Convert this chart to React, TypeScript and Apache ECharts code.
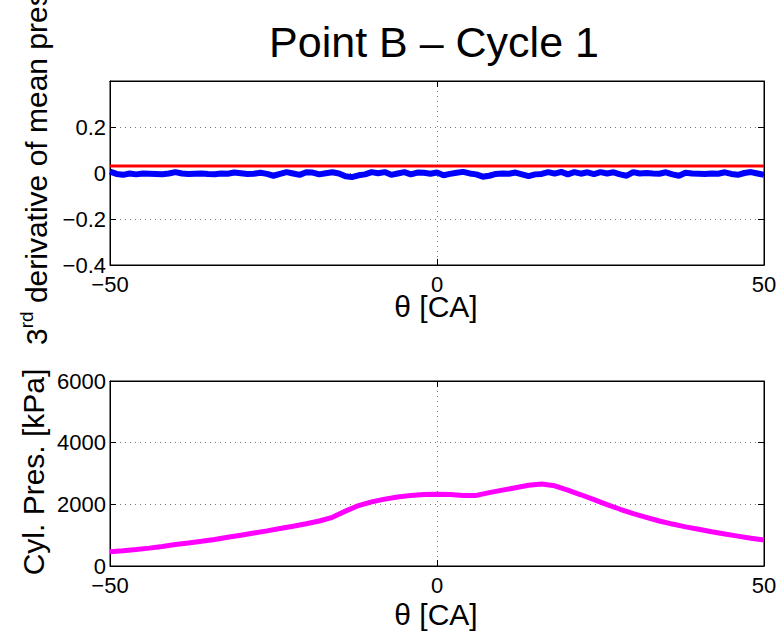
import React, { useEffect, useRef } from "react";
import * as echarts from "echarts";

const FONT = '"Liberation Sans", Arial, Helvetica, sans-serif';

const titleText = "Point B – Cycle 1";
const xLabel = "θ [CA]";
const yLabelTop = "derivative of mean pressure";
const yLabelBottom = "Cyl. Pres. [kPa]";

// Top plot: 3rd derivative (blue) and threshold (red)
const thetaDeriv = [
  -50, -49, -48, -47, -46, -45, -44, -43, -42, -41, -40, -39, -38, -37, -36, -35, -34, -33, -32, -31,
  -30, -29, -28, -27, -26, -25, -24, -23, -22, -21, -20, -19, -18, -17, -16, -15, -14, -13, -12, -11,
  -10, -9, -8, -7, -6, -5, -4, -3, -2, -1, 0, 1, 2, 3, 4, 5, 6, 7, 8, 9,
  10, 11, 12, 13, 14, 15, 16, 17, 18, 19, 20, 21, 22, 23, 24, 25, 26, 27, 28, 29,
  30, 31, 32, 33, 34, 35, 36, 37, 38, 39, 40, 41, 42, 43, 44, 45, 46, 47, 48, 49, 50,
];
const derivValues = [
  0.006, -0.004, -0.008, -0.002, -0.006, -0.002, -0.003, -0.004, -0.005, -0.002, 0.004, -0.002, -0.004, -0.003, -0.002, -0.004, -0.005, -0.002, -0.003, 0.002,
  -0.001, -0.004, -0.003, 0.001, -0.004, -0.012, -0.004, 0.004, -0.002, -0.008, 0.003, 0.002, -0.006, -0.001, 0.003, -0.002, -0.014, -0.018, -0.01, -0.006,
  0.004, -0.001, 0.004, -0.008, -0.002, 0.004, -0.006, 0.002, 0.001, -0.003, 0.002, -0.01, -0.004, 0.001, 0.005, -0.002, -0.006, -0.016, -0.012, -0.004,
  -0.002, -0.003, 0.002, -0.006, -0.014, -0.006, -0.004, 0.004, -0.003, 0.005, -0.006, 0.004, -0.003, 0.003, -0.005, 0.004, -0.002, 0.003, -0.006, -0.012,
  0.004, -0.002, 0.0, -0.002, -0.003, 0.003, -0.006, -0.012, 0.001, -0.002, -0.003, -0.004, -0.002, -0.003, 0.003, -0.004, -0.008, 0.0, 0.004, -0.002, -0.008,
];
const thresholdTheta = [-50, 50];
const thresholdValues = [0.03, 0.03];

// Bottom plot: cylinder pressure
const thetaPres = [
  -50, -48, -46, -44, -42, -40, -38, -36, -34, -32, -30, -28, -26, -24, -22, -20, -18, -16, -14, -12,
  -10, -8, -6, -4, -2, 0, 2, 4, 6, 8, 10, 12, 14, 16, 18, 20, 22, 24, 26, 28,
  30, 32, 34, 36, 38, 40, 42, 44, 46, 48, 50,
];
const presValues = [
  460, 495, 535, 580, 635, 700, 745, 800, 860, 930, 1000, 1070, 1140, 1215, 1290, 1370, 1460, 1580, 1780, 1960,
  2080, 2170, 2240, 2290, 2320, 2330, 2320, 2290, 2290, 2380, 2460, 2540, 2620, 2660, 2600, 2460, 2310, 2150, 1990, 1840,
  1700, 1580, 1460, 1360, 1270, 1190, 1110, 1040, 970, 900, 840,
];

const topYTicks = { min: -0.4, max: 0.4, interval: 0.2 };
const xTicks = { min: -50, max: 50, interval: 50 };
const bottomYTicks = { min: 0, max: 6000, interval: 2000 };

const fmt = (v: number) => {
  const r = Math.round(v * 1000) / 1000;
  if (r === 0) return "0";
  return r < 0 ? "\u2212" + String(-r) : String(r);
};

export default function App() {
  const ref = useRef<HTMLDivElement>(null);
  useEffect(() => {
    document.body.style.margin = "0";
    if (!ref.current) return;
    const chart = echarts.init(ref.current, undefined, { renderer: "svg" });
    const labelStyle = { color: "#000", fontSize: 22, fontFamily: FONT };
    const gridLine = { show: true, lineStyle: { color: "#777", type: [1, 4] as any, width: 1 } };
    const axisLine = { show: true, onZero: false, lineStyle: { color: "#000", width: 1 } };
    const tick = { show: true, inside: true, length: 6, lineStyle: { color: "#000" } };

    const mkX = (gridIndex: number, main: boolean) => ({
      type: "value",
      gridIndex,
      position: main ? "bottom" : "top",
      ...xTicks,
      axisLine,
      axisTick: tick,
      axisLabel: main ? { ...labelStyle, margin: 8, formatter: fmt } : { show: false },
      splitLine: main ? gridLine : { show: false },
    });
    const mkY = (gridIndex: number, main: boolean, ticks: any, hideMax: boolean) => ({
      type: "value",
      gridIndex,
      position: main ? "left" : "right",
      ...ticks,
      axisLine,
      axisTick: tick,
      axisLabel: main
        ? {
            ...labelStyle,
            margin: 4,
            formatter: (v: number) => (hideMax && Math.abs(v - ticks.max) < 1e-9 ? "" : fmt(v)),
          }
        : { show: false },
      splitLine: main ? gridLine : { show: false },
    });

    chart.setOption({
      animation: false,
      backgroundColor: "#fff",
      grid: [
        { left: 110, top: 81, width: 654, height: 184, show: true, borderColor: "#000", borderWidth: 1 },
        { left: 110, top: 381, width: 654, height: 185, show: true, borderColor: "#000", borderWidth: 1 },
      ],
      xAxis: [mkX(0, true), mkX(0, false), mkX(1, true), mkX(1, false)],
      yAxis: [
        mkY(0, true, topYTicks, true),
        mkY(0, false, topYTicks, true),
        mkY(1, true, bottomYTicks, false),
        mkY(1, false, bottomYTicks, false),
      ],
      series: [
        {
          type: "line",
          xAxisIndex: 0,
          yAxisIndex: 0,
          data: thetaDeriv.map((t, i) => [t, derivValues[i]]),
          symbol: "none",
          lineStyle: { color: "#0000ff", width: 6 },
          z: 3,
        },
        {
          type: "line",
          xAxisIndex: 0,
          yAxisIndex: 0,
          data: thresholdTheta.map((t, i) => [t, thresholdValues[i]]),
          symbol: "none",
          lineStyle: { color: "#ff0000", width: 3 },
          z: 4,
        },
        {
          type: "line",
          xAxisIndex: 2,
          yAxisIndex: 2,
          data: thetaPres.map((t, i) => [t, presValues[i]]),
          symbol: "none",
          lineStyle: { color: "#ff00ff", width: 5 },
          z: 3,
        },
      ],
      graphic: [
        {
          type: "text",
          x: 434,
          y: 42,
          style: { text: titleText, fontSize: 43, fontFamily: FONT, fill: "#000", align: "center", verticalAlign: "middle" },
        },
        {
          type: "text",
          x: 436,
          y: 306,
          style: { text: xLabel, fontSize: 30, fontFamily: FONT, fill: "#000", align: "center", verticalAlign: "middle" },
        },
        {
          type: "text",
          x: 436,
          y: 614,
          style: { text: xLabel, fontSize: 30, fontFamily: FONT, fill: "#000", align: "center", verticalAlign: "middle" },
        },
        {
          type: "text",
          x: 33,
          y: 472,
          rotation: Math.PI / 2,
          style: { text: yLabelBottom, fontSize: 30, fontFamily: FONT, fill: "#000", align: "center", verticalAlign: "middle" },
        },
        {
          type: "text",
          x: 34,
          y: 345,
          rotation: Math.PI / 2,
          style: {
            text: "{a|3}{s|rd}{a| " + yLabelTop + "}",
            fill: "#000",
            align: "left",
            verticalAlign: "middle",
            rich: {
              a: { fontSize: 30, fontFamily: FONT, fill: "#000", lineHeight: 34, verticalAlign: "bottom" },
              s: { fontSize: 19, fontFamily: FONT, fill: "#000", lineHeight: 34, verticalAlign: "top" },
            },
          },
        },
      ],
    });
    return () => chart.dispose();
  }, []);
  return <div ref={ref} style={{ width: 781, height: 633 }} />;
}
